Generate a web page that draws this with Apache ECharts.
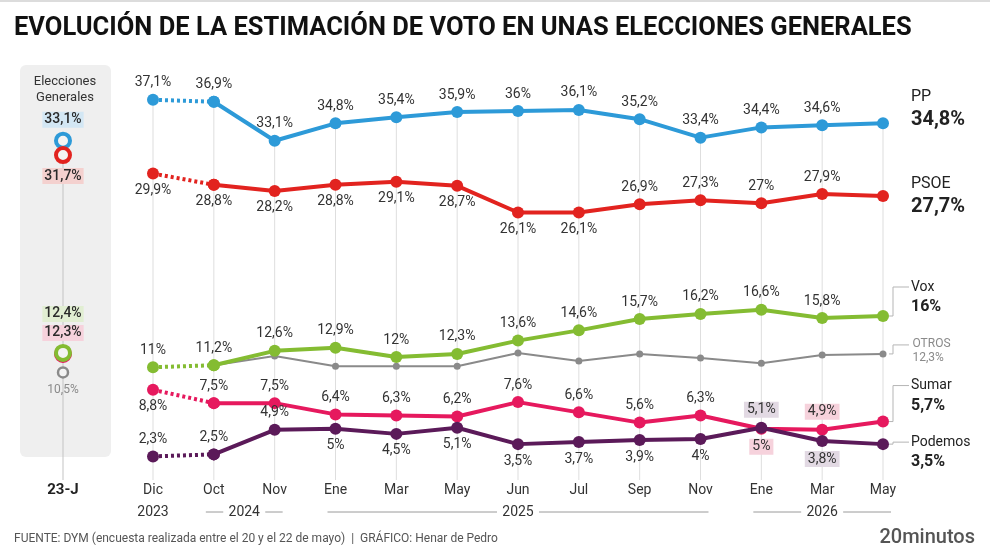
<!DOCTYPE html>
<html><head><meta charset="utf-8">
<script src="https://cdn.jsdelivr.net/npm/echarts@6/dist/echarts.min.js"></script>
<style>html,body{margin:0;padding:0;background:#fff}#c{width:990px;height:558px}</style>
</head><body><div id="c"></div>
<script>
// ---------- DATA ----------
const categories = ['Dic','Oct','Nov','Ene','Mar','May','Jun','Jul','Sep','Nov','Ene','Mar','May'];
const years = ['2023','2024','2025','2026'];
const yearStart = [0, 1, 3, 10];
const yearEnd = [0, 2, 9, 12];
const pp = [37.1,36.9,33.1,34.8,35.4,35.9,36,36.1,35.2,33.4,34.4,34.6,34.8];
const psoe = [29.9,28.8,28.2,28.8,29.1,28.7,26.1,26.1,26.9,27.3,27,27.9,27.7];
const vox = [11,11.2,12.6,12.9,12,12.3,13.6,14.6,15.7,16.2,16.6,15.8,16];
const otros = [null,11.2,12.1,11.1,11.1,11.1,12.4,11.6,12.3,11.9,11.4,12.2,12.3];
const sumar = [8.8,7.5,7.5,6.4,6.3,6.2,7.6,6.6,5.6,6.3,5,4.9,5.7];
const podemos = [2.3,2.5,4.9,5,4.5,5.1,3.5,3.7,3.9,4,5.1,3.8,3.5];
const electionCategory = ['23-J'];
const electionParties = ['PP','PSOE','OTROS','Sumar','Vox'];
const electionValues = [33.1,31.7,10.5,12.3,12.4];

// ---------- STYLE ----------
const FONT = 'Roboto';
const colors = {PP:'#2d9ad8', PSOE:'#e2231f', Vox:'#84bc32', OTROS:'#8a8a8a', Sumar:'#e6195e', Podemos:'#5b1a59'};
const labelBg = {PP:'#d3e7f4', PSOE:'#f4d1cf', Vox:'#e1eed2', Sumar:'#f6d2dc', Podemos:'#e2d9e3'};
const ppPos = Array(13).fill('top');
const psoePos = ['bottom','bottom','bottom','bottom','bottom','bottom','bottom','bottom','top','top','top','top','top'];
const voxPos = Array(13).fill('top');
const sumarPos = ['bottom','top','top','top','top','top','top','top','top','top','bottom','top','top'];
const podemosPos = ['top','top','top','bottom','bottom','bottom','bottom','bottom','bottom','bottom','top','bottom','top'];
const fmt = v => String(v).replace('.', ',') + '%';
const fmtP = p => fmt(Array.isArray(p.value) ? p.value[1] : p.value);

function pointLabel(pos, bg){
  const l = {show:true, position:pos, distance:4, fontFamily:FONT, fontSize:14, color:'#333', formatter:fmtP};
  if (bg) { l.backgroundColor = bg; l.padding = [1,3]; }
  return l;
}
function endLabel(name, big, dy, dist, grey){
  return {
    show:true, position:'right', distance:dist, offset:[0,dy], align:'left',
    formatter: p => '{n|' + name + '}\n{v|' + fmtP(p) + '}',
    rich: grey ? {
      n:{fontFamily:FONT, fontSize:12, color:'#8a8a8a', lineHeight:14},
      v:{fontFamily:FONT, fontSize:12, color:'#8a8a8a', lineHeight:14}
    } : {
      n:{fontFamily:FONT, fontSize:big?16:14, color:'#222', lineHeight:big?22:20},
      v:{fontFamily:FONT, fontSize:big?20:16, fontWeight:'bold', color:'#222', lineHeight:big?24:20}
    }
  };
}
function party(name, values, positions, opt){
  const n = values.length;
  const color = colors[name];
  const w = opt.width, sz = opt.size;
  const out = [];
  if (values[0] != null) {
    out.push({
      type:'line', name:name+'_dot', xAxisIndex:0, yAxisIndex:0, z:opt.z,
      data: values.map((v,i)=> i===0 ? {value:v, label:pointLabel(positions[0])} : (i===1 ? {value:v, label:{show:false}} : null)),
      symbol:'circle', symbolSize:sz, itemStyle:{color},
      lineStyle:{color, width:w, type:[3,3]}, silent:true
    });
  }
  out.push({
    type:'line', name:name, xAxisIndex:0, yAxisIndex:0, z:opt.z,
    data: values.map((v,i)=>{
      if (i===0) return null;
      if (i===n-1) return {value:v, label:endLabel(opt.label||name, opt.big, opt.dy, opt.dist, opt.grey)};
      if (opt.noLabels) return {value:v, label:{show:false}};
      const bg = (opt.bgIdx||[]).includes(i) ? labelBg[name] : null;
      return {value:v, label:pointLabel(positions[i], bg)};
    }),
    symbol:'circle', symbolSize:sz, itemStyle:{color},
    lineStyle:{color, width:w}, silent:true
  });
  return out;
}

const series = [];
// vertical guide lines, from the top series down to the axis
series.push({type:'bar', xAxisIndex:0, yAxisIndex:0, data:pp, barWidth:1, itemStyle:{color:'#dedede'}, silent:true, z:0});
series.push(...party('OTROS', otros, null, {width:2, size:7, z:2, noLabels:true, grey:true, dy:-3, dist:26}));
series.push(...party('Vox', vox, voxPos, {width:4, size:12, z:3, dy:-19, dist:22}));
series.push(...party('PSOE', psoe, psoePos, {width:4, size:12, z:3, big:true, dy:0, dist:22}));
series.push(...party('PP', pp, ppPos, {width:4, size:12, z:3, big:true, dy:-14, dist:22}));
series.push(...party('Sumar', sumar, sumarPos, {width:4, size:12, z:4, dy:-26, dist:22, bgIdx:[10,11]}));
series.push(...party('Podemos', podemos, podemosPos, {width:4, size:12, z:5, dy:8, dist:22, bgIdx:[10,11]}));

// election panel
series.push({type:'bar', xAxisIndex:1, yAxisIndex:1, data:[Math.max(...electionValues)], barWidth:1, itemStyle:{color:'#c4c4c4'}, silent:true, z:1});
const elecLabel = {
  PP:{position:'top', offset:[0,0]},
  PSOE:{position:'bottom', offset:[0,0]},
  OTROS:{position:'bottom', offset:[0,0]},
  Sumar:{position:'top', offset:[0,0]},
  Vox:{position:'top', offset:[0,-18]}
};
electionParties.forEach((p,i)=>{
  const grey = p==='OTROS';
  series.push({
    type:'scatter', xAxisIndex:1, yAxisIndex:1, z:3+i,
    data:[electionValues[i]],
    symbol:'circle', symbolSize: grey?10:14,
    itemStyle:{color:'#f4f4f4', borderColor:colors[p], borderWidth: grey?2.5:4, opacity:1},
    label: Object.assign({
      show:true, distance:4, fontFamily:FONT, fontSize: grey?12:14,
      fontWeight: grey?'normal':500, color: grey?'#8a8a8a':'#2a2a2a',
      backgroundColor: grey?'transparent':labelBg[p], padding:[1,2],
      formatter: fmtP
    }, elecLabel[p]),
    silent:true
  });
});

const chart = echarts.init(document.getElementById('c'));
chart.setOption({
  animation:false,
  backgroundColor:'#fff',
  grid:[
    {left:153, right:107, top:70, bottom:78},
    {left:20, width:86, top:70, bottom:78}
  ],
  xAxis:[
    {type:'category', gridIndex:0, data:categories, boundaryGap:false,
     axisLine:{show:false}, axisTick:{show:false}, splitLine:{show:false},
     axisLabel:{margin:3, fontFamily:FONT, fontSize:14, color:'#333', interval:0}},
    {type:'category', gridIndex:1, data:electionCategory, boundaryGap:true,
     axisLine:{show:false}, axisTick:{show:false},
     axisLabel:{margin:3, fontFamily:FONT, fontSize:15, fontWeight:'bold', color:'#222'}}
  ],
  yAxis:[
    {type:'value', gridIndex:0, min:0, max:40, show:false},
    {type:'value', gridIndex:1, min:0, max:40, show:false}
  ],
  series
});

// ---------- decorations (positions derived from the axes) ----------
const g = [];
g.push({type:'rect', z:-10, shape:{x:0, y:0, width:990, height:2}, style:{fill:'#dcdcdc'}});
g.push({type:'text', left:14, top:16, style:{text:'EVOLUCIÓN DE LA ESTIMACIÓN DE VOTO EN UNAS ELECCIONES GENERALES', font:'bold 25.5px Roboto', fill:'#111'}});
g.push({type:'rect', z:-10, shape:{x:20, y:65, width:91, height:392, r:6}, style:{fill:'#efefef'}});
g.push({type:'text', z:5, x:65, y:74, style:{text:'Elecciones\nGenerales', font:'13px Roboto', fill:'#333', align:'center', lineHeight:16}});

const yy = 512;
years.forEach((yr,i)=>{
  const x0 = chart.convertToPixel({xAxisIndex:0}, yearStart[i]);
  const x1 = chart.convertToPixel({xAxisIndex:0}, yearEnd[i]);
  const mid = (x0+x1)/2;
  g.push({type:'text', x:mid, y:yy, style:{text:yr, font:'14px Roboto', fill:'#333', align:'center', verticalAlign:'middle'}});
  if (x1 > x0) {
    const half = 18;
    g.push({type:'line', shape:{x1:x0-8, y1:yy, x2:mid-half-3, y2:yy}, style:{stroke:'#9a9a9a', lineWidth:1}});
    g.push({type:'line', shape:{x1:mid+half+3, y1:yy, x2:x1+8, y2:yy}, style:{stroke:'#9a9a9a', lineWidth:1}});
  }
});

// connectors to the end labels
const connect = [['Vox', vox, -29], ['OTROS', otros, -9], ['Sumar', sumar, -36], ['Podemos', podemos, -2]];
connect.forEach(([name, vals, dy])=>{
  const last = vals.length-1;
  const pt = chart.convertToPixel({xAxisIndex:0, yAxisIndex:0}, [last, vals[last]]);
  const px = pt[0], py = pt[1];
  g.push({type:'polyline', z:1, shape:{points:[[px+6,py],[px+10,py],[px+10,py+dy],[px+26,py+dy]]}, style:{stroke:'#b5b5b5', lineWidth:1, fill:null}});
});

g.push({type:'text', left:14, top:533, style:{text:'FUENTE: DYM (encuesta realizada entre el 20 y el 22 de mayo)  |  GRÁFICO: Henar de Pedro', font:'12px Roboto', fill:'#555'}});
g.push({type:'text', right:15, top:528, style:{text:'20minutos', font:'500 20px Roboto', fill:'#555'}});

chart.setOption({graphic:g});
</script>
</body></html>
